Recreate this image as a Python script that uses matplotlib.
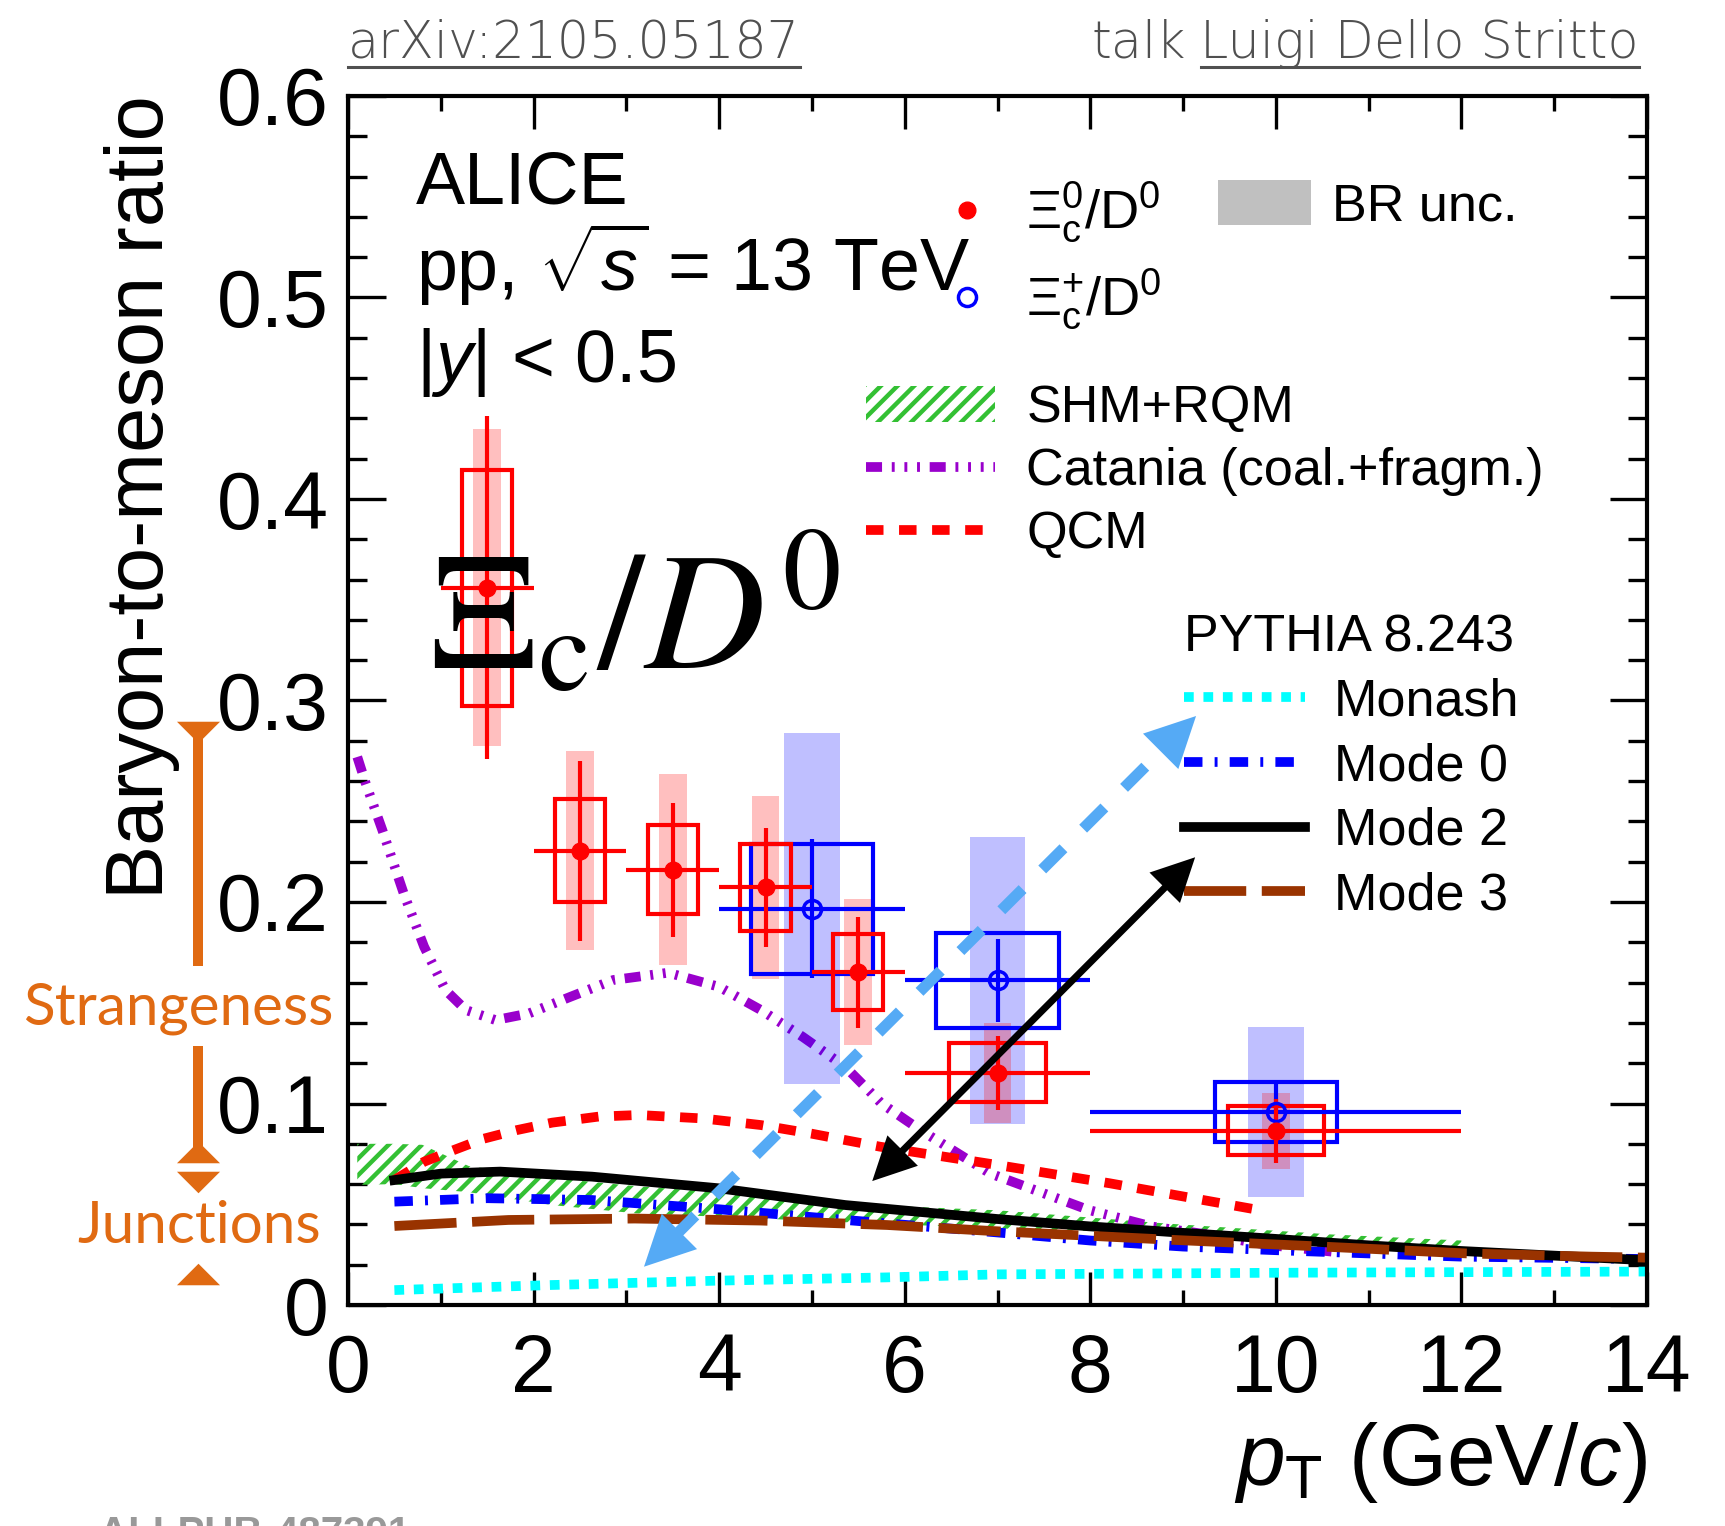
import numpy as np
import matplotlib
matplotlib.use("Agg")
import matplotlib.pyplot as plt
from matplotlib.ticker import MultipleLocator, FuncFormatter
from matplotlib.lines import Line2D
from matplotlib.patches import Patch

plt.rcParams['font.family'] = ['Liberation Sans', 'DejaVu Sans']
plt.rcParams['mathtext.fontset'] = 'custom'
plt.rcParams['mathtext.rm'] = 'Liberation Sans'
plt.rcParams['mathtext.it'] = 'Liberation Sans:italic'
plt.rcParams['mathtext.bf'] = 'Liberation Sans:bold'
plt.rcParams['hatch.linewidth'] = 3.2

# Xi_c0/D0 (red, filled) -- pT, half bin width, value, stat, syst, BR uncertainties
xic0_pt = [1.5, 2.5, 3.5, 4.5, 5.5, 7.0, 10.0]
xic0_hw = [0.5, 0.5, 0.5, 0.5, 0.5, 1.0, 2.0]
xic0_val = [0.356, 0.2255, 0.2159, 0.2072, 0.1651, 0.1152, 0.0865]
xic0_stat = [0.085, 0.0447, 0.0333, 0.0293, 0.0274, 0.0182, 0.0159]
xic0_syst = [0.0585, 0.0254, 0.0221, 0.0217, 0.0188, 0.0146, 0.0122]
xic0_br = [0.0785, 0.0495, 0.0474, 0.0452, 0.0362, 0.0248, 0.0189]

# Xi_c+/D0 (blue, open)
xicp_pt = [5.0, 7.0, 10.0]
xicp_hw = [1.0, 1.0, 2.0]
xicp_val = [0.1967, 0.1611, 0.096]
xicp_stat = [0.0344, 0.0207, 0.014]
xicp_syst = [0.0322, 0.0234, 0.0149]
xicp_br = [0.0871, 0.0713, 0.0422]

# model curves
shm_pt = [0.1, 0.5, 0.8, 1.3, 2.2, 3.1, 4.0, 5.4, 7.0, 8.8, 10.6, 12.0]
shm_hi = [0.080, 0.080, 0.0795, 0.069, 0.063, 0.059, 0.056, 0.050, 0.047, 0.0405, 0.035, 0.032]
shm_lo = [0.0596, 0.060, 0.058, 0.056, 0.0496, 0.0455, 0.0438, 0.041, 0.038, 0.0356, 0.0306, 0.029]

catania_pt = [0.1, 0.19, 0.37, 0.6, 0.82, 1.05, 1.27, 1.59, 1.95, 2.4, 2.86, 3.45, 4.0, 4.45,
              4.9, 5.36, 5.75, 6.17, 6.92, 7.98, 8.67, 9.31, 9.91, 10.6]
catania_val = [0.272, 0.259, 0.2357, 0.2043, 0.1778, 0.1563, 0.1464, 0.1414, 0.1447, 0.153,
               0.1613, 0.1649, 0.1579, 0.1464, 0.1331, 0.1182, 0.1, 0.0868, 0.0653, 0.0472,
               0.0389, 0.0347, 0.0298, 0.0265]

qcm_pt = [0.5, 0.82, 1.14, 1.46, 1.82, 2.2, 2.7, 3.13, 3.82, 4.45, 5.0, 5.73, 6.97, 8.21, 9.87]
qcm_val = [0.062, 0.0711, 0.0769, 0.0825, 0.0868, 0.0905, 0.0935, 0.0943, 0.0926, 0.0893,
           0.085, 0.0786, 0.0697, 0.0604, 0.0467]

monash_pt = [0.5, 2.18, 4.0, 5.8, 7.0, 10.0, 14.0]
monash_val = [0.0074, 0.0099, 0.0121, 0.0137, 0.0152, 0.016, 0.0166]

mode0_pt = [0.5, 1.5, 2.63, 4.0, 5.36, 6.95, 8.0, 9.0, 10.0, 12.0, 14.0]
mode0_val = [0.0513, 0.053, 0.0521, 0.0475, 0.0422, 0.0362, 0.032, 0.029, 0.0272, 0.024, 0.0228]

mode2_pt = [0.5, 1.0, 1.64, 2.63, 4.0, 5.36, 6.99, 8.0, 9.0, 10.0, 11.0, 12.0, 13.0, 14.0]
mode2_val = [0.062, 0.0652, 0.0662, 0.0637, 0.0579, 0.0496, 0.0427, 0.039, 0.0358, 0.0328,
             0.0296, 0.0268, 0.0245, 0.0222]

mode3_pt = [0.5, 1.73, 3.09, 4.45, 5.81, 6.95, 8.9, 10.5, 12.05, 13.4, 14.0]
mode3_val = [0.0392, 0.0422, 0.0429, 0.0419, 0.0397, 0.0367, 0.0323, 0.029, 0.0256, 0.024, 0.0235]

RED = '#ff0000'
BLUE = '#0000ff'
ORANGE = '#e06a12'
ARROW_BLUE = '#55aaf5'

fig = plt.figure(figsize=(17.25, 15.26), dpi=100)
ax = fig.add_axes([348 / 1725, 1 - 1305 / 1526, 1299 / 1725, 1209 / 1526])
ax.set_xlim(0, 14)
ax.set_ylim(0, 0.6)

# models
shm = ax.fill_between(shm_pt, shm_lo, shm_hi, facecolor='none', edgecolor='#33c033',
                      hatch='//', linewidth=0, zorder=2)
cat, = ax.plot(catania_pt, catania_val, color='#9900cc', lw=7,
               ls=(0, (1.65, 1.0, 0.3, 1.0, 0.3, 1.0, 0.3, 1.0)), zorder=2.2)
qcm, = ax.plot(qcm_pt, qcm_val, color=RED, lw=7, ls=(0, (1.8, 1.6)), zorder=2.2)
mon, = ax.plot(monash_pt, monash_val, color='#00ffff', lw=7, ls=(0, (1, 1)), zorder=2.1)
m0, = ax.plot(mode0_pt, mode0_val, color=BLUE, lw=7, ls=(0, (1.9, 1.25, 0.3, 1.25)), zorder=2.3)
m2, = ax.plot(mode2_pt, mode2_val, color='black', lw=7, zorder=2.4)
m3, = ax.plot(mode3_pt, mode3_val, color='#993300', lw=7, ls=(0, (6.4, 1.6)), zorder=2.5)

# data: BR bands, syst boxes, stat errors, markers
x0 = np.array(xic0_pt); v0 = np.array(xic0_val)
xp = np.array(xicp_pt); vp = np.array(xicp_val)
ax.bar(xp, 2 * np.array(xicp_br), bottom=vp - np.array(xicp_br), width=0.6,
       color=(0, 0, 1, 0.25), linewidth=0, zorder=3)
ax.bar(x0, 2 * np.array(xic0_br), bottom=v0 - np.array(xic0_br), width=0.3,
       color=(1, 0, 0, 0.25), linewidth=0, zorder=3.1)
ax.bar(xp, 2 * np.array(xicp_syst), bottom=vp - np.array(xicp_syst), width=1.32,
       fill=False, edgecolor=BLUE, linewidth=3, zorder=4)
ax.bar(x0, 2 * np.array(xic0_syst), bottom=v0 - np.array(xic0_syst),
       width=[0.54] * 5 + [1.04, 1.04], fill=False, edgecolor=RED, linewidth=3, zorder=4.1)
ax.errorbar(xp, vp, yerr=xicp_stat, xerr=xicp_hw, fmt='none', ecolor=BLUE,
            elinewidth=3, capsize=0, zorder=5)
ax.errorbar(x0, v0, yerr=xic0_stat, xerr=xic0_hw, fmt='none', ecolor=RED,
            elinewidth=3, capsize=0, zorder=5.1)
pts_p, = ax.plot(xp, vp, 'o', ms=13, mfc='none', mec=BLUE, mew=2.5, zorder=6)
pts_0, = ax.plot(x0, v0, 'o', ms=12, color=RED, zorder=6.1)

# axes styling
ax.xaxis.set_major_locator(MultipleLocator(2))
ax.xaxis.set_minor_locator(MultipleLocator(1))
ax.yaxis.set_major_locator(MultipleLocator(0.1))
ax.yaxis.set_minor_locator(MultipleLocator(0.02))
ax.yaxis.set_major_formatter(FuncFormatter(lambda v, _: '0' if abs(v) < 1e-9 else f'{v:.1f}'))
ax.tick_params(which='both', direction='in', top=True, right=True, width=2.4)
ax.tick_params(axis='y', which='major', length=27, pad=14, labelsize=58)
ax.tick_params(axis='y', which='minor', length=13.5)
ax.tick_params(axis='x', which='major', length=24, pad=20, labelsize=58)
ax.tick_params(axis='x', which='minor', length=11)
for s in ax.spines.values():
    s.set_linewidth(3)

fig.text(142 / 1725, 1 - 497 / 1526, 'Baryon-to-meson ratio', rotation=90,
         ha='center', va='center', fontsize=58.5)
fig.text(1647 / 1725, 1 - 1485 / 1526, r'$p_{\rm T}$ (GeV/$c$)', ha='right',
         va='baseline', fontsize=63)

# ALICE labels
fig.text(416 / 1725, 1 - 203 / 1526, 'ALICE', fontsize=53, va='baseline')
fig.text(416 / 1725, 1 - 291 / 1526, r'pp, $\sqrt{s}$ = 13 TeV', fontsize=53, va='baseline')
fig.text(416 / 1725, 1 - 382 / 1526, r'|$y$| < 0.5', fontsize=53, va='baseline')
fig.text(429 / 1725, 1 - 668 / 1526, r'$\Xi_{\rm c}/D^0$', fontsize=120,
         math_fontfamily='stix', va='baseline')

# legends
fs = 37.5
legA = ax.legend([pts_0, pts_p], [r'$\Xi_{\rm c}^{0}$/D$^{0}$', r'$\Xi_{\rm c}^{+}$/D$^{0}$'],
                 loc='upper left', bbox_to_anchor=(940 / 1725, 1 - 181 / 1526),
                 bbox_transform=fig.transFigure, frameon=False, fontsize=39, numpoints=1,
                 handlelength=1.0, handletextpad=0.58, labelspacing=0.42,
                 borderpad=0, borderaxespad=0)
ax.add_artist(legA)
legB = ax.legend([Patch(facecolor='#c0c0c0')], ['BR unc.'], loc='upper left',
                 bbox_to_anchor=(1218 / 1725, 1 - 180 / 1526), bbox_transform=fig.transFigure,
                 frameon=False, fontsize=fs, handlelength=1.79, handleheight=0.94,
                 handletextpad=0.4, borderpad=0, borderaxespad=0)
ax.add_artist(legB)
legC = ax.legend([shm, cat, qcm], ['SHM+RQM', 'Catania (coal.+fragm.)', 'QCM'],
                 loc='upper left', bbox_to_anchor=(866 / 1725, 1 - 384 / 1526),
                 bbox_transform=fig.transFigure, frameon=False, fontsize=fs,
                 handlelength=2.48, handletextpad=0.6, labelspacing=0.27,
                 borderpad=0, borderaxespad=0)
ax.add_artist(legC)
legD = ax.legend([mon, m0, m2, m3], ['Monash', 'Mode 0', 'Mode 2', 'Mode 3'],
                 title='PYTHIA 8.243', title_fontsize=fs, alignment='left',
                 loc='upper left', bbox_to_anchor=(1184 / 1725, 1 - 613 / 1526),
                 bbox_transform=fig.transFigure, frameon=False, fontsize=fs,
                 handlelength=2.32, handletextpad=0.56, labelspacing=0.3,
                 borderpad=0, borderaxespad=0)


# annotation arrows
def shorten(a, b, d_pts):
    pa = ax.transData.transform(a)
    pb = ax.transData.transform(b)
    v = pb - pa
    u = v / np.hypot(*v)
    d = d_pts * fig.dpi / 72
    return ax.transData.inverted().transform(np.array([pa + u * d, pb - u * d]))


def double_arrow(a, b, color, lw, ls, hl, hw):
    seg = shorten(a, b, hl * 10 * 0.85)
    ax.plot(seg[:, 0], seg[:, 1], color=color, lw=lw, ls=ls, solid_capstyle='butt',
            dash_capstyle='butt', clip_on=False, zorder=8)
    a = np.array(a); b = np.array(b)
    for tip, other in ((a, b), (b, a)):
        ax.annotate('', xy=tip, xytext=tip + 0.002 * (other - tip),
                    arrowprops=dict(arrowstyle=f'-|>,head_length={hl},head_width={hw}',
                                    fc=color, ec='none', lw=0, shrinkA=0, shrinkB=0,
                                    mutation_scale=10),
                    annotation_clip=False, zorder=8)


double_arrow((3.19, 0.019), (9.14, 0.2923), ARROW_BLUE, 8, (0, (2.7, 2.5)), 3.6, 1.8)
double_arrow((5.65, 0.0615), (9.13, 0.2222), 'black', 5, '-', 3.1, 1.55)

# Strangeness / Junctions brackets left of the axis
ytr = ax.get_yaxis_transform()
xo = -0.1155
cap_down = [(-1, 0.5), (1, 0.5), (0, -0.5), (-1, 0.5)]
cap_up = [(-1, -0.5), (1, -0.5), (0, 0.5), (-1, -0.5)]
ax.plot([xo, xo], [0.2845, 0.168], color=ORANGE, lw=7.2, solid_capstyle='butt',
        transform=ytr, clip_on=False)
ax.plot([xo, xo], [0.1285, 0.0758], color=ORANGE, lw=7.2, solid_capstyle='butt',
        transform=ytr, clip_on=False)
ax.plot([xo, xo], [0.2845, 0.0612], ls='none', marker=cap_down, ms=31, mew=0,
        color=ORANGE, transform=ytr, clip_on=False)
ax.plot([xo, xo], [0.0758, 0.0153], ls='none', marker=cap_up, ms=31, mew=0,
        color=ORANGE, transform=ytr, clip_on=False)
ax.text(-0.1309, 0.1392, 'Strangeness', transform=ytr, ha='center', va='baseline',
        fontsize=42, family='Lato', color=ORANGE, clip_on=False)
ax.text(-0.115, 0.0306, 'Junctions', transform=ytr, ha='center', va='baseline',
        fontsize=42, family='Lato', color=ORANGE, clip_on=False)

# header
GRAY = '#505050'
hdr = dict(fontsize=36.5, color=GRAY, va='baseline', family='DejaVu Sans', weight='light')
t_arx = fig.text(348 / 1725, 1 - 58 / 1526, 'arXiv:2105.05187', **hdr)
t_name = fig.text(1639 / 1725, 1 - 58 / 1526, 'Luigi Dello Stritto', ha='right', **hdr)
fig.text(99 / 1725, 1 - 1515 / 1526, 'ALI-PUB-487391', fontsize=29, color='#999999',
         va='top', weight='bold')

fig.canvas.draw()
r = fig.canvas.get_renderer()
bb_a = t_arx.get_window_extent(r)
bb_n = t_name.get_window_extent(r)
fig.text((bb_n.x0 - 14) / fig.bbox.width, 1 - 58 / 1526, 'talk', ha='right', **hdr)
uy = 1 - 67 / 1526
for bb in (bb_a, bb_n):
    fig.add_artist(Line2D([bb.x0 / fig.bbox.width, bb.x1 / fig.bbox.width], [uy, uy],
                          transform=fig.transFigure, color=GRAY, lw=2.2))

fig.savefig('out.png', dpi=100)
